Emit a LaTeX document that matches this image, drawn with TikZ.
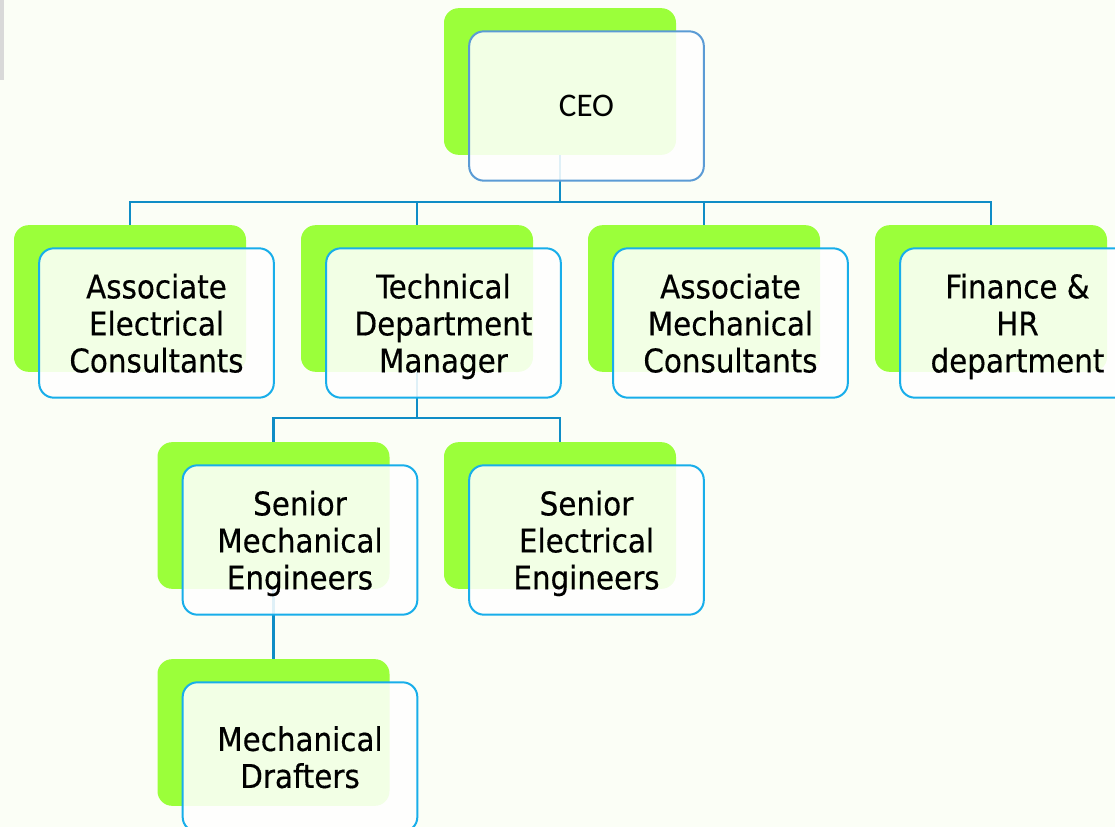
\documentclass[tikz,border=0pt]{standalone}
\usepackage{fontspec}
\usepackage{xcolor}
\usepackage{tikz}
\newfontfamily\boxfont[FakeBold=0.4]{DejaVu Sans Condensed}
\newfontfamily\ceofont{Carlito}
\definecolor{pagebg}{HTML}{FBFEF6}
\definecolor{leaf}{HTML}{9BFF3A}
\definecolor{edge}{HTML}{18AEEA}
\definecolor{ceoedge}{HTML}{5B9BD5}
\definecolor{wire}{HTML}{0F8DC6}
\definecolor{strip}{HTML}{D9D9D9}

\begin{document}
\begin{tikzpicture}[x=0.75pt,y=-0.75pt,
    back/.style={fill=leaf,rounded corners=11pt,minimum width=174pt,minimum height=110pt,inner sep=0pt},
    front/.style={draw=edge,line width=1.5pt,fill=white,fill opacity=0.87,text opacity=1,rounded corners=11pt,
        minimum width=176pt,minimum height=112pt,inner sep=0pt,align=center,text depth=0pt,
        font=\boxfont\fontsize{24.5}{27.75}\selectfont},
    link/.style={draw=wire,line width=1.75pt}]
    \clip (0,0) rectangle (1115,827);
    \fill[pagebg] (0,0) rectangle (1115,827);
    \fill[strip] (0,0) rectangle (4,80);
    \node[back] (ceo-bg) at (560,81.5) {};
    \node[back] (aec-bg) at (130,298.5) {};
    \node[back] (tdm-bg) at (417,298.5) {};
    \node[back] (amc-bg) at (704,298.5) {};
    \node[back] (fhr-bg) at (991,298.5) {};
    \node[back] (sme-bg) at (273.5,515.5) {};
    \node[back] (see-bg) at (560,515.5) {};
    \node[back] (drf-bg) at (273.5,732.5) {};
    \coordinate (bus1) at (560,202);
    \coordinate (bus2) at (417,418);
    \draw[link] (ceo-bg.south) -- (bus1);
    \draw[link] (bus1) -| (aec-bg.north);
    \draw[link] (bus1) -| (tdm-bg.north);
    \draw[link] (bus1) -| (amc-bg.north);
    \draw[link] (bus1) -| (fhr-bg.north);
    \draw[link] (tdm-bg.south) -- (bus2);
    \draw[link] (bus2) -| (sme-bg.north);
    \draw[link] (bus2) -| (see-bg.north);
    \draw[link] (sme-bg.south) -- (drf-bg.north);
    \node[front,draw=ceoedge,font=\ceofont\fontsize{24.75}{27}\selectfont] (ceo) at (586.5,106) {CEO};
    \node[front] (aec) at (156.5,323) {Associate\\Electrical\\Consultants};
    \node[front] (tdm) at (443.5,323) {Technical\\Department\\Manager};
    \node[front] (amc) at (730.5,323) {Associate\\Mechanical\\Consultants};
    \node[front] (fhr) at (1017.5,323) {Finance \&\\HR\\department};
    \node[front] (sme) at (300,540) {Senior\\Mechanical\\Engineers};
    \node[front] (see) at (586.5,540) {Senior\\Electrical\\Engineers};
    \node[front] (drf) at (300,757) {Mechanical\\Drafters};
\end{tikzpicture}
\end{document}
